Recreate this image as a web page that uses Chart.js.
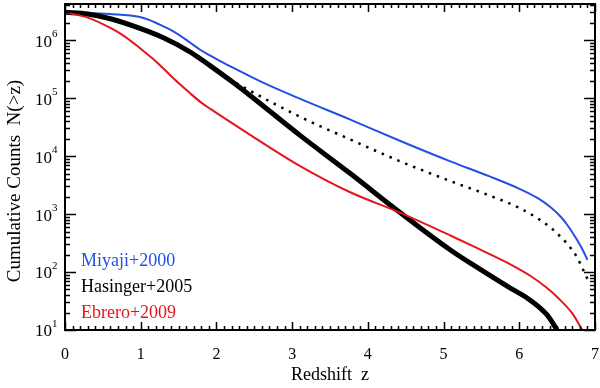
<!DOCTYPE html>
<html lang="en">
<head>
<meta charset="UTF-8">
<title>Cumulative Counts N(>z)</title>
<script src="https://cdn.jsdelivr.net/npm/chart.js"></script>
<style>
    html, body { margin: 0; padding: 0; background: #fff; }
    #wrap { width: 600px; height: 388px; }
</style>
</head>
<body>
<div id="wrap"><canvas id="counts-chart" width="600" height="388"></canvas></div>
<script>
    // values: redshift z and cumulative counts N(>z)
    const miyajiZ = [0, 0.3, 0.59, 0.99, 1.12, 1.25, 1.39, 1.52, 1.65, 1.78, 1.92, 2.05, 2.31, 2.58, 3.1, 3.76, 4.43, 5.09, 5.6, 6.01, 6.25, 6.41, 6.55, 6.63, 6.76, 6.85, 6.9];
    const miyajiN = [3.02e6, 2.95e6, 2.82e6, 2.51e6, 2.21e6, 1.85e6, 1.52e6, 1.2e6, 9.1e5, 6.9e5, 5.4e5, 4.35e5, 2.92e5, 1.95e5, 9.8e4, 4.3e4, 1.82e4, 8.1e3, 4.5e3, 2.7e3, 1.86e3, 1.32e3, 890, 660, 363, 224, 162];

    const hasingerZ = [0, 0.3, 0.6, 1.0, 1.3, 1.65, 1.92, 2.2, 2.44, 3.1, 3.76, 4.43, 5.09, 5.48, 5.85, 6.14, 6.37, 6.5];
    const hasingerN = [3.02e6, 2.82e6, 2.34e6, 1.58e6, 1.10e6, 6.3e5, 3.6e5, 1.95e5, 1.12e5, 2.3e4, 5.1e3, 1.05e3, 240, 112, 56, 33, 18, 10];

    // dotted continuation of the Hasinger+2005 curve
    const dottedZ = [1.8, 2.0, 2.44, 3.1, 3.76, 4.43, 5.09, 5.6, 6.01, 6.25, 6.41, 6.55, 6.63, 6.76, 6.85, 6.9];
    const dottedN = [4.7e5, 2.95e5, 1.35e5, 4.8e4, 1.95e4, 8.1e3, 3.7e3, 2.1e3, 1.26e3, 830, 590, 400, 310, 182, 105, 76];

    const ebreroZ = [0, 0.3, 0.6, 0.8, 1.0, 1.15, 1.3, 1.5, 1.65, 1.8, 1.92, 2.44, 3.1, 3.76, 4.43, 5.09, 5.48, 5.9, 6.14, 6.35, 6.5, 6.71, 6.83];
    const ebreroN = [3.02e6, 2.45e6, 1.62e6, 1.13e6, 7.1e5, 4.9e5, 3.23e5, 1.82e5, 1.22e5, 8.35e4, 6.5e4, 2.35e4, 6.8e3, 2.4e3, 1.05e3, 427, 245, 132, 87, 55, 37, 18.6, 10];

    const yDecades = [10, 100, 1e3, 1e4, 1e5, 1e6];
    const legendNames = ['Miyaji+2000', 'Hasinger+2005', 'Ebrero+2009'];
    const yTitle = 'Cumulative Counts  N(>z)';
    const xTitle = 'Redshift  z';

    const BLUE = '#2350e4';
    const RED = '#e4161c';
    const SERIF = '"Liberation Serif", "DejaVu Serif", serif';

    function points(zs, ns) {
        return zs.map((z, i) => ({ x: z, y: ns[i] }));
    }

    // box, inward ticks, y labels with superscripts, y title and the text legend
    const idlFrame = {
        id: 'idlFrame',
        afterDraw(chart) {
            const ctx = chart.ctx;
            const { left, right, top, bottom } = chart.chartArea;
            const xs = chart.scales.x;
            const ys = chart.scales.y;
            ctx.save();
            ctx.strokeStyle = '#000';
            ctx.lineWidth = 2;
            ctx.strokeRect(left, top, right - left, bottom - top);

            ctx.lineWidth = 1.5;
            ctx.beginPath();
            // x ticks every 0.1, major at integers
            for (let i = 0; i <= 70; i++) {
                const px = Math.round(xs.getPixelForValue(i / 10)) + 0.5;
                const len = i % 10 === 0 ? 8 : 4;
                ctx.moveTo(px, bottom); ctx.lineTo(px, bottom - len);
                ctx.moveTo(px, top); ctx.lineTo(px, top + len);
            }
            // y ticks 1..9 per decade
            for (const d of yDecades) {
                for (let k = 1; k <= 9; k++) {
                    const v = d * k;
                    if (v > ys.max) break;
                    const py = Math.round(ys.getPixelForValue(v)) + 0.5;
                    const len = k === 1 ? 11 : 5;
                    ctx.moveTo(left, py); ctx.lineTo(left + len, py);
                    ctx.moveTo(right, py); ctx.lineTo(right - len, py);
                }
            }
            ctx.stroke();

            // y tick labels 10^n
            ctx.fillStyle = '#000';
            for (const d of yDecades) {
                const py = ys.getPixelForValue(d);
                const exp = String(Math.round(Math.log10(d)));
                ctx.font = '17px ' + SERIF;
                ctx.textAlign = 'right';
                ctx.textBaseline = 'middle';
                ctx.fillText('10', 52, py + 2);
                ctx.font = '11px ' + SERIF;
                ctx.textAlign = 'left';
                ctx.fillText(exp, 52, py - 6);
            }

            // y title
            ctx.save();
            ctx.translate(15, 181);
            ctx.rotate(-Math.PI / 2);
            ctx.font = '19px ' + SERIF;
            ctx.textAlign = 'center';
            ctx.textBaseline = 'middle';
            ctx.fillText(yTitle, 0, 0);
            ctx.restore();

            // legend
            ctx.font = '18px ' + SERIF;
            ctx.textAlign = 'left';
            ctx.textBaseline = 'alphabetic';
            const colors = [BLUE, '#000', RED];
            legendNames.forEach((name, i) => {
                ctx.fillStyle = colors[i];
                ctx.fillText(name, 81, 266 + i * 26);
            });
            ctx.restore();
        }
    };

    const ctx = document.getElementById('counts-chart').getContext('2d');
    new Chart(ctx, {
        type: 'line',
        data: {
            datasets: [
                { label: 'Ebrero+2009', data: points(ebreroZ, ebreroN), borderColor: RED, borderWidth: 2 },
                { label: 'Hasinger+2005', data: points(hasingerZ, hasingerN), borderColor: '#000', borderWidth: 5 },
                { label: 'Hasinger+2005 (ext)', data: points(dottedZ, dottedN), borderColor: '#000', borderWidth: 2.5, borderDash: [2.5, 6] },
                { label: 'Miyaji+2000', data: points(miyajiZ, miyajiN), borderColor: BLUE, borderWidth: 2 }
            ]
        },
        options: {
            responsive: false,
            animation: false,
            devicePixelRatio: 1,
            layout: { padding: { top: 4, right: 5, left: 0, bottom: 0 } },
            elements: {
                point: { radius: 0 },
                line: { cubicInterpolationMode: 'monotone', fill: false }
            },
            plugins: {
                legend: { display: false },
                tooltip: { enabled: false }
            },
            scales: {
                x: {
                    type: 'linear',
                    min: 0,
                    max: 7,
                    grid: { display: false, drawTicks: false },
                    border: { display: false },
                    ticks: {
                        stepSize: 1,
                        color: '#000',
                        padding: 15,
                        font: { family: SERIF, size: 16 }
                    },
                    title: {
                        display: true,
                        text: xTitle,
                        color: '#000',
                        font: { family: SERIF, size: 18 },
                        padding: { top: 0, bottom: 2 }
                    },
                    afterFit(scale) {
                        scale.height = 58;
                        scale.paddingLeft = 0;
                        scale.paddingRight = 0;
                    }
                },
                y: {
                    type: 'logarithmic',
                    min: 10,
                    max: 4.2e6,
                    grid: { display: false, drawTicks: false },
                    border: { display: false },
                    ticks: { display: false },
                    afterBuildTicks(scale) {
                        scale.ticks = yDecades.map(v => ({ value: v }));
                    },
                    afterFit(scale) {
                        scale.width = 65;
                        scale.paddingTop = 0;
                        scale.paddingBottom = 0;
                    }
                }
            }
        },
        plugins: [idlFrame]
    });
</script>
</body>
</html>
